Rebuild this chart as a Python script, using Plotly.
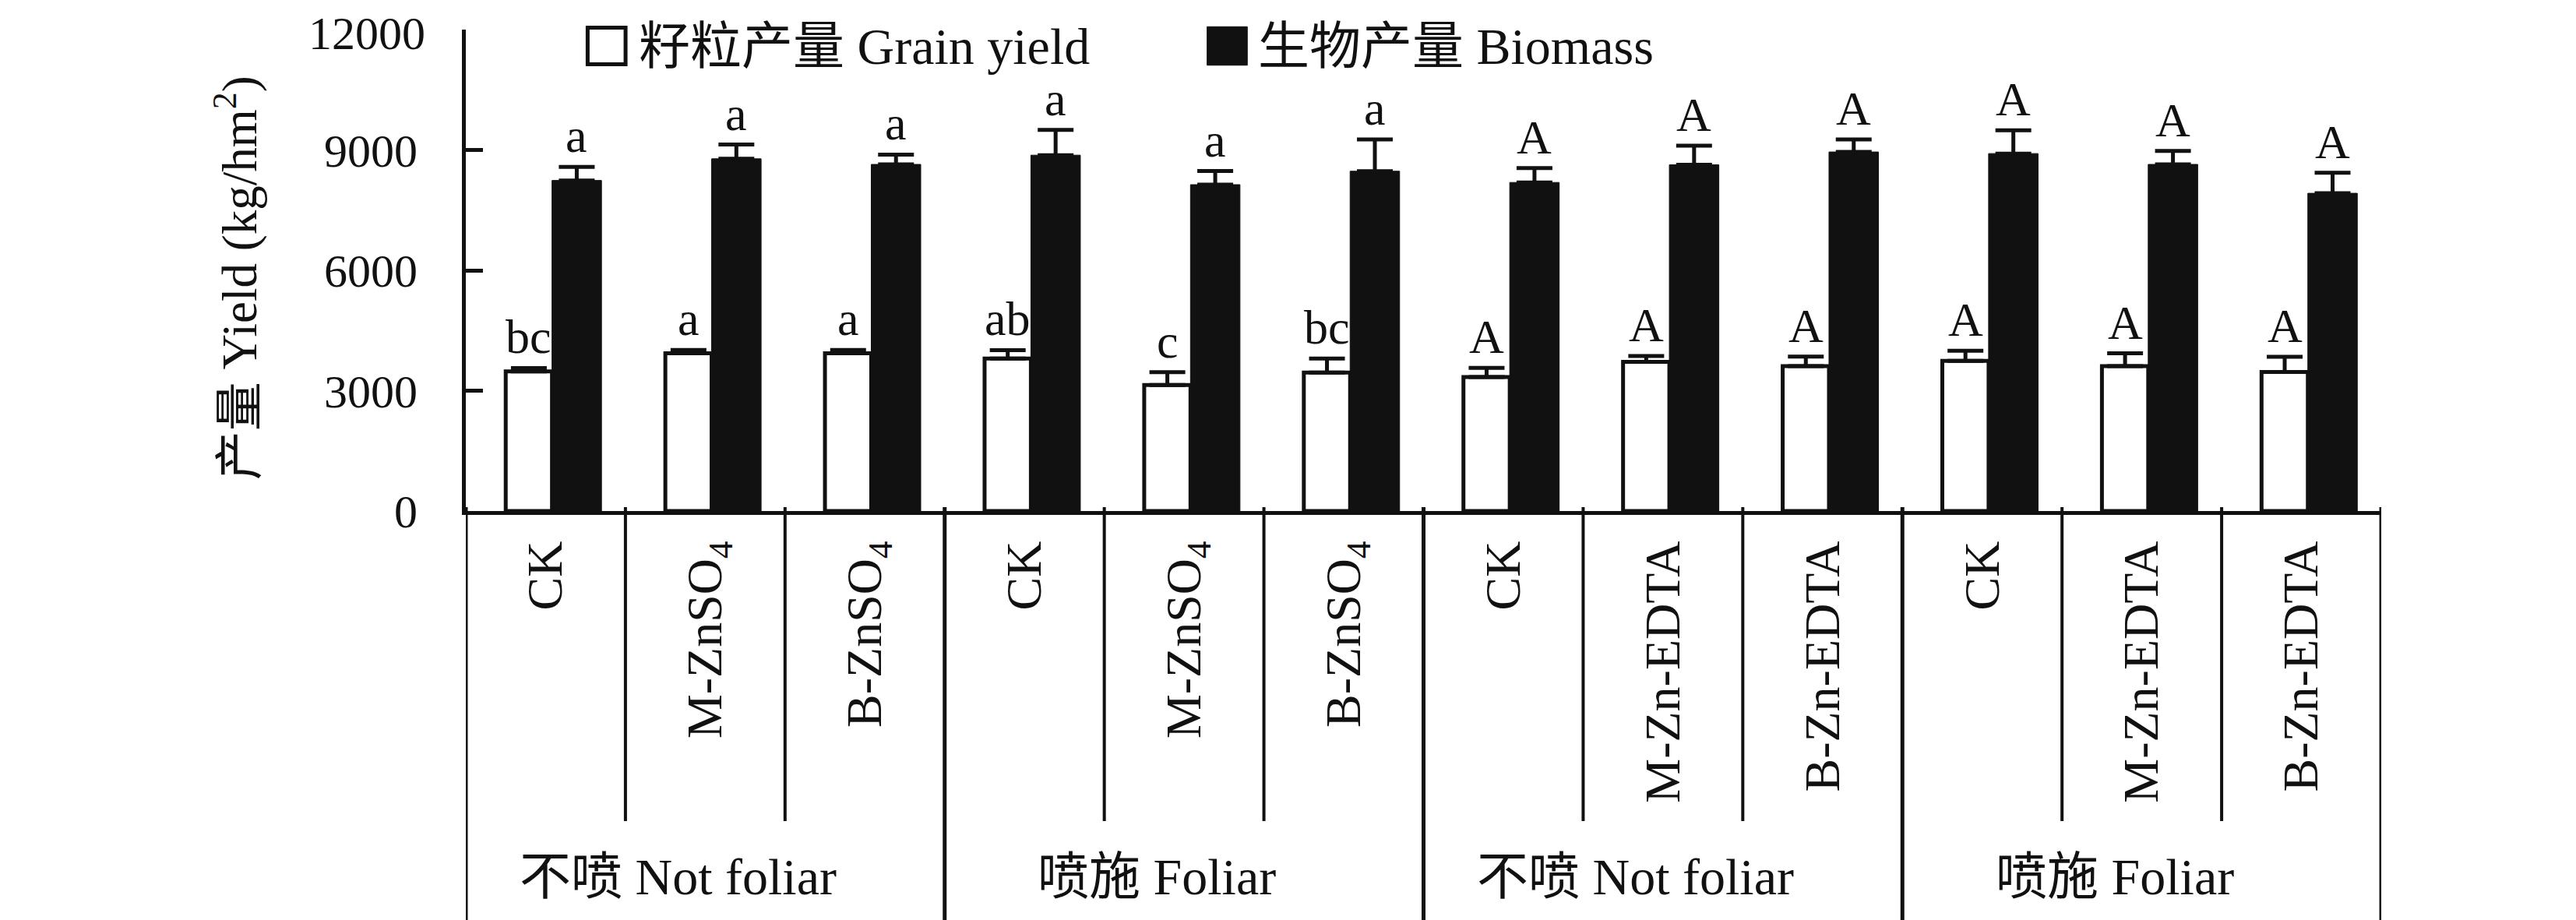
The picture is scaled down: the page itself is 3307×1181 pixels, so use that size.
import plotly.graph_objects as go

# ---------------- data ----------------
categories = ["CK", "M-ZnSO<sub>4</sub>", "B-ZnSO<sub>4</sub>",
              "CK", "M-ZnSO<sub>4</sub>", "B-ZnSO<sub>4</sub>",
              "CK", "M-Zn-EDTA", "B-Zn-EDTA",
              "CK", "M-Zn-EDTA", "B-Zn-EDTA"]
groups = ["不喷 Not foliar", "喷施 Foliar", "不喷 Not foliar", "喷施 Foliar"]

grain = [3480, 3930, 3930, 3800, 3140, 3450, 3340, 3720, 3610, 3745, 3610, 3465]
grain_err = [85, 85, 85, 210, 320, 350, 230, 145, 240, 250, 320, 380]
grain_sig = ["bc", "a", "a", "ab", "c", "bc", "A", "A", "A", "A", "A", "A"]

biomass = [8240, 8780, 8640, 8870, 8135, 8470, 8190, 8630, 8950, 8910, 8640, 7920]
biomass_err = [340, 355, 245, 630, 340, 790, 360, 475, 310, 580, 335, 510]
biomass_sig = ["a", "a", "a", "a", "a", "a", "A", "A", "A", "A", "A", "A"]

y_ticks = [0, 3000, 6000, 9000, 12000]

# ---------------- style ----------------
FONT = "Liberation Serif, 'Noto Sans CJK SC', serif"
BLACK = "#111111"
W_OFF, W_W = -0.25, 0.29
B_OFF, B_W = 0.04, 0.31
FS = 62

xs = list(range(len(categories)))

fig = go.Figure()
fig.add_trace(go.Bar(
    x=xs, y=grain, offset=W_OFF, width=W_W,
    marker=dict(color="white", line=dict(color=BLACK, width=5)),
    error_y=dict(type="data", array=grain_err, symmetric=False,
                 arrayminus=[0] * len(grain), color=BLACK, thickness=5, width=23),
    name="籽粒产量 Grain yield", showlegend=False))
fig.add_trace(go.Bar(
    x=xs, y=biomass, offset=B_OFF, width=B_W,
    marker=dict(color=BLACK, line=dict(color=BLACK, width=1)),
    error_y=dict(type="data", array=biomass_err, symmetric=False,
                 arrayminus=[0] * len(biomass), color=BLACK, thickness=5, width=23),
    name="生物产量 Biomass", showlegend=False))

ann = []
for i in xs:
    ann.append(dict(x=i + W_OFF + W_W / 2, y=grain[i] + grain_err[i], xref="x", yref="y",
                    text=grain_sig[i], showarrow=False, yanchor="bottom", yshift=4,
                    font=dict(family=FONT, size=FS, color=BLACK)))
    ann.append(dict(x=i + B_OFF + B_W / 2, y=biomass[i] + biomass_err[i], xref="x", yref="y",
                    text=biomass_sig[i], showarrow=False, yanchor="bottom", yshift=4,
                    font=dict(family=FONT, size=FS, color=BLACK)))

# group labels
for g, name in enumerate(groups):
    ann.append(dict(x=3 * g + 1, y=-0.759, xref="x", yref="paper", text=name,
                    showarrow=False, xanchor="center", yanchor="middle", xshift=-35,
                    font=dict(family=FONT, size=66, color=BLACK)))

# y-axis title
ann.append(dict(x=-0.12, y=0.485, xref="paper", yref="paper",
                text="产量 Yield (kg/hm<sup>2</sup>)", textangle=-90, showarrow=False,
                xanchor="center", yanchor="middle",
                font=dict(family=FONT, size=63, color=BLACK)))

# y tick label at the very top (drawn as text so it stays inside the page)
ann.append(dict(x=0, y=1, xref="paper", yref="paper", text=str(y_ticks[-1]),
                showarrow=False, xanchor="right", yanchor="top", xshift=-50, yshift=30,
                font=dict(family=FONT, size=60, color=BLACK)))

# legend (manual)
ann.append(dict(x=0.0895, y=0.966, xref="paper", yref="paper", text="籽粒产量 Grain yield",
                showarrow=False, xanchor="left", yanchor="middle",
                font=dict(family=FONT, size=66, color=BLACK)))
ann.append(dict(x=0.4128, y=0.966, xref="paper", yref="paper", text="生物产量 Biomass",
                showarrow=False, xanchor="left", yanchor="middle",
                font=dict(family=FONT, size=66, color=BLACK)))

shapes = [
    dict(type="rect", xref="paper", yref="paper", x0=0.0636, x1=0.0834, y0=0.928, y1=1.004,
         line=dict(color=BLACK, width=5), fillcolor="white"),
    dict(type="rect", xref="paper", yref="paper", x0=0.387, x1=0.408, y0=0.926, y1=1.006,
         line=dict(color=BLACK, width=1), fillcolor=BLACK),
]
# category dividers below the axis
for k in range(len(categories) + 1):
    xb = k - 0.5
    long_line = (k % 3 == 0)
    shapes.append(dict(type="line", xref="x", yref="paper", x0=xb, x1=xb,
                       y0=0.008, y1=-0.9 if long_line else -0.644,
                       line=dict(color=BLACK, width=5 if long_line else 4)))

fig.update_layout(
    width=3307, height=1181,
    margin=dict(l=590, r=258, t=30, b=533),
    paper_bgcolor="white", plot_bgcolor="white",
    barmode="overlay",
    annotations=ann, shapes=shapes,
    font=dict(family=FONT, size=FS, color=BLACK),
    xaxis=dict(range=[-0.5, 11.5], tickmode="array", tickvals=xs, ticktext=categories,
               tickangle=-90, showgrid=False, zeroline=False, showline=True,
               linecolor=BLACK, linewidth=5, ticks="", ticklabelstandoff=8,
               tickfont=dict(family=FONT, size=64, color=BLACK)),
    yaxis=dict(range=[0, 12000], tickmode="array", tickvals=y_ticks[:-1] + [11999.9],
               ticktext=[str(v) for v in y_ticks[:-1]] + [""],
               showgrid=False, zeroline=False, showline=True, linecolor=BLACK,
               linewidth=5, ticks="inside", ticklen=22, tickwidth=5, tickcolor=BLACK,
               ticklabelstandoff=45,
               tickfont=dict(family=FONT, size=60, color=BLACK)),
)

fig.write_html("out.html")
